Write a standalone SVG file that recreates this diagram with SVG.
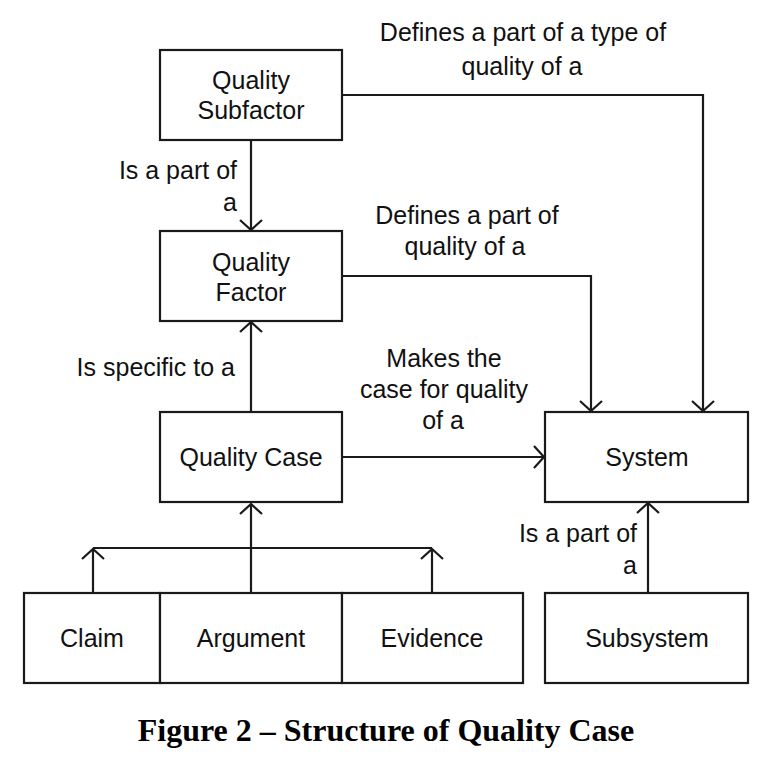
<svg xmlns="http://www.w3.org/2000/svg" width="781" height="763" viewBox="0 0 781 763">
<defs>
<style>
.box{fill:#fff;stroke:#1a1a1a;stroke-width:2.2}
.t{font-family:"Liberation Sans",Arial,sans-serif;font-size:25px;fill:#111;text-anchor:middle}
.l{font-family:"Liberation Sans",Arial,sans-serif;font-size:25px;fill:#111}
.c{fill:none;stroke:#1a1a1a;stroke-width:2.2}
.cap{font-family:"Liberation Serif","Times New Roman",serif;font-weight:bold;font-size:32px;fill:#000;text-anchor:middle}
</style>
<marker id="arr" markerUnits="userSpaceOnUse" markerWidth="30" markerHeight="30" viewBox="-15 -15 30 30" refX="0" refY="0" orient="auto">
<path d="M-10,-11 L0,0 L-10,11" fill="none" stroke="#1a1a1a" stroke-width="2.2"/>
</marker>
</defs>
<rect width="781" height="763" fill="#fff"/>
<g id="connectors">
<path class="c" d="M251,140 V230" marker-end="url(#arr)"/>
<path class="c" d="M342,95 H703 V411" marker-end="url(#arr)"/>
<path class="c" d="M342,276 H591 V411" marker-end="url(#arr)"/>
<path class="c" d="M251,412 V322" marker-end="url(#arr)"/>
<path class="c" d="M342,457 H544" marker-end="url(#arr)"/>
<path class="c" d="M251,593 V504" marker-end="url(#arr)"/>
<path class="c" d="M93,548 H432"/>
<path class="c" d="M93,593 V549" marker-end="url(#arr)"/>
<path class="c" d="M432,593 V549" marker-end="url(#arr)"/>
<path class="c" d="M648,593 V503" marker-end="url(#arr)"/>
</g>
<g id="labels">
<text class="t" x="523" y="41">Defines a part of a type of</text>
<text class="t" x="522" y="75">quality of a</text>
<text class="l" x="237" y="179" text-anchor="end">Is a part of</text>
<text class="l" x="237" y="211" text-anchor="end">a</text>
<text class="t" x="467" y="224">Defines a part of</text>
<text class="t" x="465" y="255">quality of a</text>
<text class="l" x="235" y="376" text-anchor="end">Is specific to a</text>
<text class="t" x="444" y="367">Makes the</text>
<text class="t" x="444" y="398">case for quality</text>
<text class="t" x="443" y="429">of a</text>
<text class="l" x="637" y="542" text-anchor="end">Is a part of</text>
<text class="l" x="637" y="574" text-anchor="end">a</text>
</g>
<g id="subfactor"><rect class="box" x="160" y="50" width="182" height="90"/><text class="t" x="251" y="89">Quality</text><text class="t" x="251" y="119">Subfactor</text></g>
<g id="factor"><rect class="box" x="160" y="231" width="182" height="90"/><text class="t" x="251" y="271">Quality</text><text class="t" x="251" y="301">Factor</text></g>
<g id="qualitycase"><rect class="box" x="160" y="412" width="182" height="90"/><text class="t" x="251" y="466">Quality Case</text></g>
<g id="system"><rect class="box" x="545" y="412" width="203" height="90"/><text class="t" x="647" y="466">System</text></g>
<g id="claim"><rect class="box" x="24" y="593" width="136" height="90"/><text class="t" x="92" y="647">Claim</text></g>
<g id="argument"><rect class="box" x="160" y="593" width="182" height="90"/><text class="t" x="251" y="647">Argument</text></g>
<g id="evidence"><rect class="box" x="342" y="593" width="181" height="90"/><text class="t" x="432" y="647">Evidence</text></g>
<g id="subsystem"><rect class="box" x="545" y="593" width="203" height="90"/><text class="t" x="647" y="647">Subsystem</text></g>
<text class="cap" x="386" y="741">Figure 2 – Structure of Quality Case</text>
</svg>
